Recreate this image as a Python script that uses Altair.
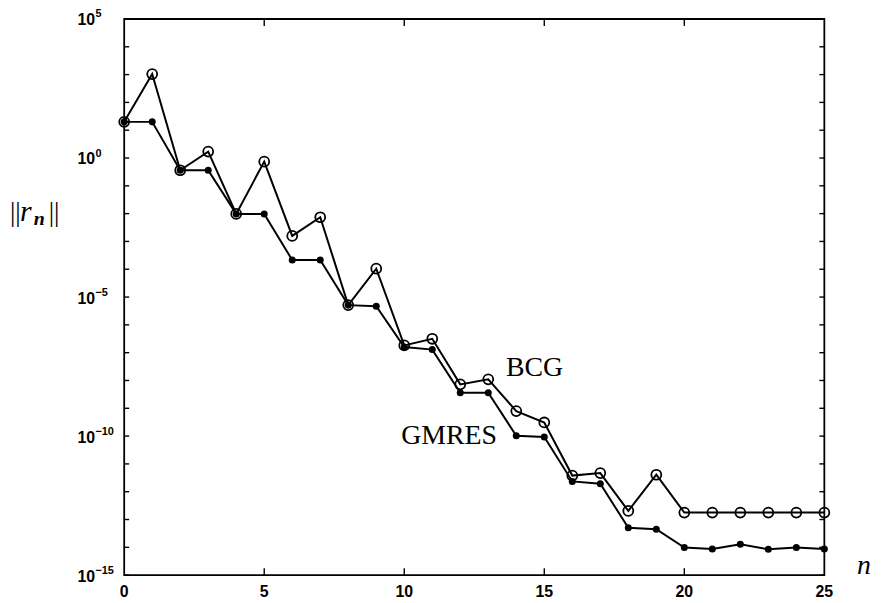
import altair as alt
import pandas as pd

# ---- data (log10 of residual norms) ----
iterations = list(range(26))
bcg_log10 = [1.30, 3.02, -0.44, 0.23, -2.01, -0.13, -2.80, -2.13, -5.29, -3.98,
             -6.74, -6.50, -8.14, -7.96, -9.10, -9.51, -11.42, -11.33, -12.69, -11.39,
             -12.75, -12.75, -12.75, -12.75, -12.75, -12.75]
gmres_log10 = [1.30, 1.30, -0.44, -0.44, -2.01, -2.01, -3.67, -3.67, -5.29, -5.33,
               -6.80, -6.89, -8.44, -8.44, -9.99, -10.03, -11.63, -11.71, -13.30, -13.35,
               -14.01, -14.06, -13.89, -14.07, -14.01, -14.06]

x_tick_values = [0, 5, 10, 15, 20, 25]
y_decades = list(range(-15, 6))
y_label_exps = [5, 0, -5, -10, -15]
y_label_texts = ["5", "0", "\u22125", "\u221210", "\u221215"]

ann_labels = ["BCG", "GMRES"]
ann_n = [14.65, 11.6]
ann_log10 = [-7.57, -10.0]

W, H = 705, 560

rows = []
for i, n in enumerate(iterations):
    rows.append({"n": n, "r": 10.0 ** bcg_log10[i], "series": "BCG"})
    rows.append({"n": n, "r": 10.0 ** gmres_log10[i], "series": "GMRES"})
df = pd.DataFrame(rows)

xscale = alt.Scale(domain=[0, 25], nice=False, zero=False)
yscale = alt.Scale(type="log", domain=[1e-15, 1e5], nice=False)

Xn = alt.X("n:Q", scale=xscale, axis=None)
Y = alt.Y("r:Q", scale=yscale, axis=None)

lines = alt.Chart(df).mark_line(color="black", strokeWidth=2.0).encode(
    x=Xn, y=Y, detail="series:N", order="n:Q")

bcg_pts = alt.Chart(df).transform_filter(alt.datum.series == "BCG").mark_point(
    shape="circle", filled=False, size=100, strokeWidth=1.8, color="black", opacity=1).encode(x=Xn, y=Y)

gm_pts = alt.Chart(df).transform_filter(alt.datum.series == "GMRES").mark_circle(
    size=50, color="black", opacity=1).encode(x=Xn, y=Y)

# inward ticks
ydf = pd.DataFrame({"r": [10.0 ** k for k in y_decades]})
lt = alt.Chart(ydf).mark_rule(color="black", strokeWidth=1.4).encode(
    y=Y, x=alt.value(0), x2=alt.value(5))
rt = alt.Chart(ydf).mark_rule(color="black", strokeWidth=1.4).encode(
    y=Y, x=alt.value(W - 5), x2=alt.value(W))
xdf = pd.DataFrame({"n": x_tick_values[1:-1]})
bt = alt.Chart(xdf).mark_rule(color="black", strokeWidth=1.4).encode(
    x=Xn, y=alt.value(H - 7), y2=alt.value(H))
tt = alt.Chart(xdf).mark_rule(color="black", strokeWidth=1.4).encode(
    x=Xn, y=alt.value(0), y2=alt.value(7))

# x tick labels
xl = pd.DataFrame({"n": x_tick_values, "lab": [str(v) for v in x_tick_values]})
xlabels = alt.Chart(xl).mark_text(align="center", baseline="middle", font="Liberation Sans",
                                  fontWeight="bold", fontSize=16, color="black").encode(
    x=Xn, y=alt.value(H + 17), text="lab:N")

# y tick labels 10^k
yl = pd.DataFrame({"r": [10.0 ** k for k in y_label_exps], "base": ["10"] * len(y_label_exps),
                   "exp": y_label_texts})
ybase = alt.Chart(yl).mark_text(align="left", baseline="middle", font="Liberation Sans",
                                fontWeight="bold", fontSize=16, color="black", dy=1.5).encode(
    y=Y, x=alt.value(-47), text="base:N")
yexp = alt.Chart(yl).mark_text(align="left", baseline="middle", font="Liberation Sans",
                               fontWeight="bold", fontSize=11, color="black", dy=-4.5).encode(
    y=Y, x=alt.value(-29), text="exp:N")

# series annotations
adf = pd.DataFrame({"n": ann_n, "r": [10.0 ** v for v in ann_log10], "label": ann_labels})
ann = alt.Chart(adf).mark_text(font="Liberation Serif", fontSize=28, color="black",
                               align="center", baseline="middle").encode(
    x=Xn, y=Y, text="label:N")

# axis titles
ylab_bar1 = alt.Chart(pd.DataFrame({"t": ["||"]})).mark_text(
    font="Liberation Serif", fontSize=27, align="left", baseline="middle", color="black").encode(
    x=alt.value(-115), y=alt.value(195), text="t:N")
ylab_r = alt.Chart(pd.DataFrame({"t": ["r"]})).mark_text(
    font="Liberation Serif", fontStyle="italic", fontSize=30, align="left", baseline="middle",
    color="black").encode(x=alt.value(-105), y=alt.value(194), text="t:N")
ylab_n = alt.Chart(pd.DataFrame({"t": ["n"]})).mark_text(
    font="Liberation Serif", fontStyle="italic", fontWeight="bold", fontSize=20, align="left",
    baseline="middle", color="black").encode(x=alt.value(-91), y=alt.value(201), text="t:N")
ylab_bar2 = alt.Chart(pd.DataFrame({"t": ["||"]})).mark_text(
    font="Liberation Serif", fontSize=27, align="left", baseline="middle", color="black").encode(
    x=alt.value(-76), y=alt.value(195), text="t:N")
xlab = alt.Chart(pd.DataFrame({"t": ["n"]})).mark_text(
    font="Liberation Serif", fontStyle="italic", fontSize=28, align="center", baseline="middle",
    color="black").encode(x=alt.value(745), y=alt.value(551), text="t:N")

chart = alt.layer(
    lines, bcg_pts, gm_pts, lt, rt, bt, tt, xlabels, ybase, yexp, ann,
    ylab_bar1, ylab_r, ylab_n, ylab_bar2, xlab
).properties(
    width=W, height=H,
    padding={"left": 117, "top": 9, "right": 50, "bottom": 25},
    autosize=alt.AutoSizeParams(type="none"),
    background="white",
).configure_view(stroke="black", strokeWidth=1.8)

chart.save("out.html", embed_options={"renderer": "svg", "actions": False})
